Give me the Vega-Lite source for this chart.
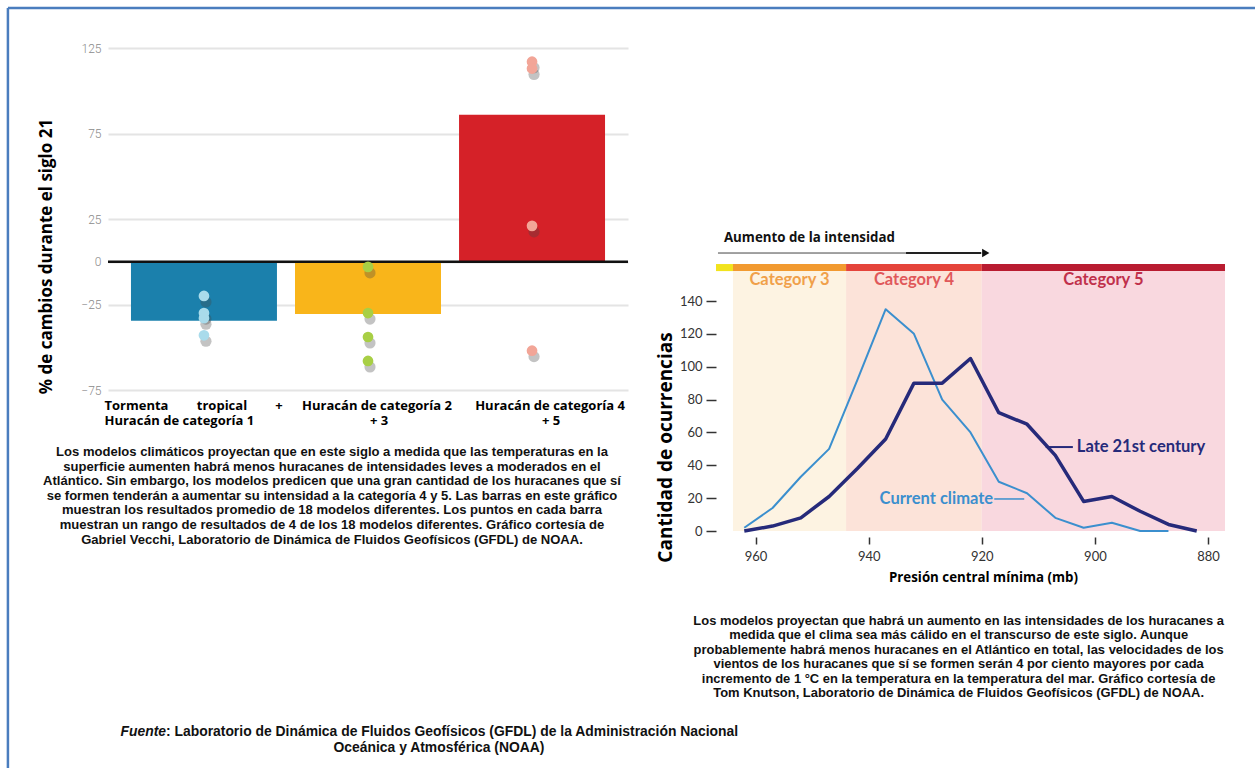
{
  "$schema": "https://vega.github.io/schema/vega-lite/v6.json",
  "padding": {"left": 6, "top": 6, "right": 0, "bottom": 0},
  "autosize": {"type": "pad"},
  "background": "white",
  "bounds": "flush",
  "spacing": 88,
  "config": {"view": {"stroke": null}, "font": "Open Sans", "text": {"font": "Open Sans"}},
  "datasets": {
    "bars": [
      {"cat": "Tormenta tropical + Huracán de categoría 1", "value": -34.5},
      {"cat": "Huracán de categoría 2 + 3", "value": -30.5},
      {"cat": "Huracán de categoría 4 + 5", "value": 86}
    ],
    "dots": [
      {"cat": "Tormenta tropical + Huracán de categoría 1", "value": -20},
      {"cat": "Tormenta tropical + Huracán de categoría 1", "value": -30},
      {"cat": "Tormenta tropical + Huracán de categoría 1", "value": -33},
      {"cat": "Tormenta tropical + Huracán de categoría 1", "value": -43},
      {"cat": "Huracán de categoría 2 + 3", "value": -3},
      {"cat": "Huracán de categoría 2 + 3", "value": -30},
      {"cat": "Huracán de categoría 2 + 3", "value": -44},
      {"cat": "Huracán de categoría 2 + 3", "value": -58},
      {"cat": "Huracán de categoría 4 + 5", "value": 117},
      {"cat": "Huracán de categoría 4 + 5", "value": 113},
      {"cat": "Huracán de categoría 4 + 5", "value": 21},
      {"cat": "Huracán de categoría 4 + 5", "value": -52}
    ],
    "cats": [
      {"cat": "Category 2", "from": 967, "to": 964},
      {"cat": "Category 3", "from": 964, "to": 944},
      {"cat": "Category 4", "from": 944, "to": 920},
      {"cat": "Category 5", "from": 920, "to": 877}
    ],
    "curves": [
      {"series": "Current climate", "mb": 962, "count": 2},
      {"series": "Current climate", "mb": 957, "count": 14},
      {"series": "Current climate", "mb": 952, "count": 33},
      {"series": "Current climate", "mb": 947, "count": 50},
      {"series": "Current climate", "mb": 942, "count": 92},
      {"series": "Current climate", "mb": 937, "count": 135},
      {"series": "Current climate", "mb": 932, "count": 120},
      {"series": "Current climate", "mb": 927, "count": 80},
      {"series": "Current climate", "mb": 922, "count": 60},
      {"series": "Current climate", "mb": 917, "count": 30},
      {"series": "Current climate", "mb": 912, "count": 23},
      {"series": "Current climate", "mb": 907, "count": 8},
      {"series": "Current climate", "mb": 902, "count": 2},
      {"series": "Current climate", "mb": 897, "count": 5},
      {"series": "Current climate", "mb": 892, "count": 0},
      {"series": "Current climate", "mb": 887, "count": 0},
      {"series": "Late 21st century", "mb": 962, "count": 0},
      {"series": "Late 21st century", "mb": 957, "count": 3},
      {"series": "Late 21st century", "mb": 952, "count": 8},
      {"series": "Late 21st century", "mb": 947, "count": 21},
      {"series": "Late 21st century", "mb": 942, "count": 38},
      {"series": "Late 21st century", "mb": 937, "count": 56},
      {"series": "Late 21st century", "mb": 932, "count": 90},
      {"series": "Late 21st century", "mb": 927, "count": 90},
      {"series": "Late 21st century", "mb": 922, "count": 105},
      {"series": "Late 21st century", "mb": 917, "count": 72},
      {"series": "Late 21st century", "mb": 912, "count": 65},
      {"series": "Late 21st century", "mb": 907, "count": 46},
      {"series": "Late 21st century", "mb": 902, "count": 18},
      {"series": "Late 21st century", "mb": 897, "count": 21},
      {"series": "Late 21st century", "mb": 892, "count": 12},
      {"series": "Late 21st century", "mb": 887, "count": 4},
      {"series": "Late 21st century", "mb": 882, "count": 0}
    ]
  },
  "hconcat": [
    {
      "width": 520,
      "height": 342,
      "resolve": {"scale": {"color": "independent"}},
      "layer": [
        {
          "data": {"name": "bars"},
          "mark": {"type": "bar"},
          "encoding": {
            "x": {"field": "cat", "type": "nominal", "scale": {"domain": ["Tormenta tropical + Huracán de categoría 1", "Huracán de categoría 2 + 3", "Huracán de categoría 4 + 5"], "paddingInner": 0.11, "paddingOuter": 0.14}, "axis": null},
            "y": {"field": "value", "type": "quantitative", "scale": {"domain": [-75, 125], "nice": false, "zero": false},
              "axis": {"values": [125, 75, 25, 0, -25, -75], "grid": true, "gridColor": "#e4e4e4", "gridWidth": 2, "domain": false, "ticks": false, "labelColor": "#8a8a8a", "labelFontSize": 12, "labelFont": "Roboto", "labelFontWeight": 300, "labelPadding": 7,
                "title": "% de cambios durante el siglo 21", "titleFont": "Open Sans", "titleFontSize": 17, "titleFontWeight": "bold", "titleColor": "#000", "titleX": -62, "titleY": 208, "titleAngle": -90, "titleAlign": "center", "titleBaseline": "middle"}},
            "color": {"field": "cat", "type": "nominal", "scale": {"domain": ["Tormenta tropical + Huracán de categoría 1", "Huracán de categoría 2 + 3", "Huracán de categoría 4 + 5"], "range": ["#1b80ac", "#f9b51a", "#d52128"]}, "legend": null}
          }
        },
        {
          "data": {"values": [{}]},
          "mark": {"type": "rule", "color": "#111", "strokeWidth": 2.5},
          "encoding": {"y": {"datum": 0}}
        },
        {
          "data": {"name": "dots"},
          "mark": {"type": "point", "filled": true, "color": "#444", "opacity": 0.32, "size": 125, "yOffset": 6, "xOffset": 2},
          "encoding": {
            "x": {"field": "cat", "type": "nominal", "axis": null},
            "y": {"field": "value", "type": "quantitative"}
          }
        },
        {
          "data": {"name": "dots"},
          "mark": {"type": "point", "filled": true, "opacity": 1, "size": 115},
          "encoding": {
            "x": {"field": "cat", "type": "nominal", "axis": null},
            "y": {"field": "value", "type": "quantitative"},
            "color": {"field": "cat", "type": "nominal", "scale": {"domain": ["Tormenta tropical + Huracán de categoría 1", "Huracán de categoría 2 + 3", "Huracán de categoría 4 + 5"], "range": ["#a9dbeb", "#a8cf45", "#f2a597"]}, "legend": null}
          }
        },
        {
          "data": {"values": [{}]},
          "mark": {"type": "text", "text": "Huracán de categoría 2", "align": "center", "dx": 9, "baseline": "top", "fontSize": 13, "fontWeight": "bold", "color": "#000"},
          "encoding": {"x": {"datum": "Huracán de categoría 2 + 3", "axis": null}, "y": {"datum": -80.8}}
        },
        {
          "data": {"values": [{}]},
          "mark": {"type": "text", "text": "+ 3", "align": "center", "dx": 11, "baseline": "top", "fontSize": 13, "fontWeight": "bold", "color": "#000"},
          "encoding": {"x": {"datum": "Huracán de categoría 2 + 3", "axis": null}, "y": {"datum": -89.9}}
        },
        {
          "data": {"values": [{}]},
          "mark": {"type": "text", "text": "Huracán de categoría 4", "align": "center", "dx": 18, "baseline": "top", "fontSize": 13, "fontWeight": "bold", "color": "#000"},
          "encoding": {"x": {"datum": "Huracán de categoría 4 + 5", "axis": null}, "y": {"datum": -80.8}}
        },
        {
          "data": {"values": [{}]},
          "mark": {"type": "text", "text": "+ 5", "align": "center", "dx": 19, "baseline": "top", "fontSize": 13, "fontWeight": "bold", "color": "#000"},
          "encoding": {"x": {"datum": "Huracán de categoría 4 + 5", "axis": null}, "y": {"datum": -89.9}}
        },
        {
          "data": {"values": [{}]},
          "mark": {"type": "text", "text": "Tormenta", "align": "left", "dx": -99.5, "baseline": "top", "fontSize": 13, "fontWeight": "bold", "color": "#000"},
          "encoding": {"x": {"datum": "Tormenta tropical + Huracán de categoría 1", "axis": null}, "y": {"datum": -80.8}}
        },
        {
          "data": {"values": [{}]},
          "mark": {"type": "text", "text": "Huracán de categoría 1", "align": "left", "dx": -99.5, "baseline": "top", "fontSize": 13, "fontWeight": "bold", "color": "#000"},
          "encoding": {"x": {"datum": "Tormenta tropical + Huracán de categoría 1", "axis": null}, "y": {"datum": -89.9}}
        },
        {
          "data": {"values": [{}]},
          "mark": {"type": "text", "text": "tropical", "align": "center", "dx": 18, "baseline": "top", "fontSize": 13, "fontWeight": "bold", "color": "#000"},
          "encoding": {"x": {"datum": "Tormenta tropical + Huracán de categoría 1", "axis": null}, "y": {"datum": -80.8}}
        },
        {
          "data": {"values": [{}]},
          "mark": {"type": "text", "text": "+", "align": "center", "dx": 75, "baseline": "top", "fontSize": 13, "fontWeight": "bold", "color": "#000"},
          "encoding": {"x": {"datum": "Tormenta tropical + Huracán de categoría 1", "axis": null}, "y": {"datum": -80.8}}
        },
        {
          "data": {"values": [{}]},
          "mark": {"type": "text", "text": [
            "Los modelos climáticos proyectan que en este siglo a medida que las temperaturas en la",
            "superficie aumenten habrá menos huracanes de intensidades leves a moderados en el",
            "Atlántico. Sin embargo, los modelos predicen que una gran cantidad de los huracanes que sí",
            "se formen tenderán a aumentar su intensidad a la categoría 4 y 5. Las barras en este gráfico",
            "muestran los resultados promedio de 18 modelos diferentes. Los puntos en cada barra",
            "muestran un rango de resultados de 4 de los 18 modelos diferentes. Gráfico cortesía de",
            "Gabriel Vecchi, Laboratorio de Dinámica de Fluidos Geofísicos (GFDL) de NOAA."
          ], "font": "Liberation Sans", "align": "center", "dx": -36, "baseline": "top", "lineHeight": 14.6, "fontSize": 13.05, "fontWeight": "bold", "color": "#111"},
          "encoding": {"x": {"datum": "Huracán de categoría 2 + 3", "axis": null}, "y": {"datum": -107.7}}
        },
        {
          "data": {"values": [{}]},
          "mark": {"type": "text", "text": "Fuente", "font": "Liberation Sans", "align": "left", "dx": -83.5, "baseline": "middle", "fontSize": 13.9, "fontWeight": "bold", "fontStyle": "italic", "color": "#111"},
          "encoding": {"x": {"datum": "Tormenta tropical + Huracán de categoría 1", "axis": null}, "y": {"datum": -275.0}}
        },
        {
          "data": {"values": [{}]},
          "mark": {"type": "text", "text": ": Laboratorio de Dinámica de Fluidos Geofísicos (GFDL) de la Administración Nacional", "font": "Liberation Sans", "align": "left", "dx": -38, "baseline": "middle", "fontSize": 13.9, "fontWeight": "bold", "color": "#111"},
          "encoding": {"x": {"datum": "Tormenta tropical + Huracán de categoría 1", "axis": null}, "y": {"datum": -275.0}}
        },
        {
          "data": {"values": [{}]},
          "mark": {"type": "text", "text": "Oceánica y Atmosférica (NOAA)", "font": "Liberation Sans", "align": "center", "dx": 71, "baseline": "middle", "fontSize": 13.9, "fontWeight": "bold", "color": "#111"},
          "encoding": {"x": {"datum": "Huracán de categoría 2 + 3", "axis": null}, "y": {"datum": -284.2}}
        }
      ]
    },
    {
      "width": 509,
      "height": 483,
      "resolve": {"scale": {"color": "independent"}},
      "layer": [
        {
          "data": {"name": "cats"},
          "transform": [{"filter": "datum.cat != 'Category 2'"}],
          "mark": {"type": "rect"},
          "encoding": {
            "x": {"field": "from", "type": "quantitative"},
            "x2": {"field": "to"},
            "y": {"datum": 0},
            "y2": {"datum": 158.2},
            "color": {"field": "cat", "type": "nominal", "scale": {"domain": ["Category 3", "Category 4", "Category 5"], "range": ["#fdf3e2", "#fce3d9", "#f9d8df"]}, "legend": null}
          }
        },
        {
          "data": {"name": "cats"},
          "mark": {"type": "rect"},
          "encoding": {
            "x": {"field": "from", "type": "quantitative"},
            "x2": {"field": "to"},
            "y": {"datum": 158.2},
            "y2": {"datum": 162.5},
            "color": {"field": "cat", "type": "nominal", "scale": {"domain": ["Category 2", "Category 3", "Category 4", "Category 5"], "range": ["#f2e31d", "#f29a30", "#e5443b", "#b91c31"]}, "legend": null}
          }
        },
        {
          "data": {"name": "cats"},
          "transform": [{"filter": "datum.cat != 'Category 2'"}, {"calculate": "(datum.from + datum.to) / 2", "as": "mid"}],
          "mark": {"type": "text", "font": "Lato", "fontSize": 16.5, "fontWeight": "bold", "baseline": "middle", "align": "center"},
          "encoding": {
            "x": {"field": "mid", "type": "quantitative"},
            "y": {"datum": 152.8},
            "text": {"field": "cat"},
            "color": {"field": "cat", "type": "nominal", "scale": {"domain": ["Category 3", "Category 4", "Category 5"], "range": ["#f0a04a", "#e0585a", "#c0304b"]}, "legend": null}
          }
        },
        {
          "data": {"values": [{}]},
          "mark": {"type": "rule", "color": "#444", "strokeWidth": 1},
          "encoding": {"x": {"datum": 966.65}, "x2": {"datum": 933.4}, "y": {"datum": 169.2}}
        },
        {
          "data": {"values": [{}]},
          "mark": {"type": "rule", "color": "#222", "strokeWidth": 2},
          "encoding": {"x": {"datum": 933.4}, "x2": {"datum": 920.1}, "y": {"datum": 169.2}}
        },
        {
          "data": {"values": [{}]},
          "mark": {"type": "point", "shape": "triangle-right", "filled": true, "color": "#111", "size": 70, "opacity": 1},
          "encoding": {"x": {"datum": 919.3}, "y": {"datum": 169.2}}
        },
        {
          "data": {"values": [{}]},
          "mark": {"type": "text", "text": "Aumento de la intensidad", "align": "left", "baseline": "middle", "fontSize": 13.3, "fontWeight": "bold", "color": "#111"},
          "encoding": {"x": {"datum": 965.6}, "y": {"datum": 178.3}}
        },
        {
          "data": {"name": "curves"},
          "transform": [{"filter": "datum.series == 'Current climate'"}],
          "mark": {"type": "line", "color": "#3b8fce", "strokeWidth": 2, "strokeJoin": "round"},
          "encoding": {
            "x": {"field": "mb", "type": "quantitative", "scale": {"domain": [967, 877], "nice": false, "zero": false},
              "axis": {"values": [960, 940, 920, 900, 880], "domain": false, "grid": false, "offset": 6, "tickSize": 7, "tickWidth": 1.5, "tickColor": "#333", "labelFont": "Lato", "labelFontSize": 13, "labelColor": "#333", "labelPadding": 6,
                "title": "Presión central mínima (mb)", "titleFont": "Open Sans", "titleFontSize": 13.3, "titleFontWeight": "bold", "titleColor": "#000", "titlePadding": 7, "titleX": 267, "titleAnchor": null, "titleAlign": "center"}},
            "y": {"field": "count", "type": "quantitative", "scale": {"domain": [0, 294], "nice": false, "zero": false},
              "axis": {"values": [0, 20, 40, 60, 80, 100, 120, 140], "domain": false, "grid": false, "tickSize": 10, "tickWidth": 1.5, "tickColor": "#333", "labelFont": "Lato", "labelFontSize": 13, "labelColor": "#333", "labelPadding": 4,
                "title": "Cantidad de ocurrencias", "titleFont": "Open Sans", "titleFontSize": 19, "titleFontWeight": "bold", "titleColor": "#000", "titleX": -51, "titleY": 399, "titleAngle": -90, "titleAlign": "center", "titleBaseline": "middle"}}
          }
        },
        {
          "data": {"name": "curves"},
          "transform": [{"filter": "datum.series == 'Late 21st century'"}],
          "mark": {"type": "line", "color": "#262a7a", "strokeWidth": 3.5, "strokeJoin": "round"},
          "encoding": {
            "x": {"field": "mb", "type": "quantitative"},
            "y": {"field": "count", "type": "quantitative"}
          }
        },
        {
          "data": {"values": [{}]},
          "mark": {"type": "text", "text": "Current climate", "font": "Lato", "align": "right", "baseline": "middle", "fontSize": 16.5, "fontWeight": "bold", "color": "#3b8fce"},
          "encoding": {"x": {"datum": 918.0}, "y": {"datum": 19.5}}
        },
        {
          "data": {"values": [{}]},
          "mark": {"type": "rule", "color": "#3b8fce", "strokeWidth": 1.5},
          "encoding": {"x": {"datum": 917.8}, "x2": {"datum": 912.5}, "y": {"datum": 19.5}}
        },
        {
          "data": {"values": [{}]},
          "mark": {"type": "text", "text": "Late 21st century", "font": "Lato", "align": "left", "baseline": "middle", "fontSize": 16.5, "fontWeight": "bold", "color": "#262a7a"},
          "encoding": {"x": {"datum": 903.2}, "y": {"datum": 51.1}}
        },
        {
          "data": {"values": [{}]},
          "mark": {"type": "rule", "color": "#262a7a", "strokeWidth": 2},
          "encoding": {"x": {"datum": 908.7}, "x2": {"datum": 903.9}, "y": {"datum": 51.1}}
        },
        {
          "data": {"values": [{}]},
          "mark": {"type": "text", "text": [
            "Los modelos proyectan que habrá un aumento en las intensidades de los huracanes a",
            "medida que el clima sea más cálido en el transcurso de este siglo. Aunque",
            "probablemente habrá menos huracanes en el Atlántico en total, las velocidades de los",
            "vientos de los huracanes que sí se formen serán 4 por ciento mayores por cada",
            "incremento de 1 °C en la temperatura en la temperatura del mar. Gráfico cortesía de",
            "Tom Knutson, Laboratorio de Dinámica de Fluidos Geofísicos (GFDL) de NOAA."
          ], "font": "Liberation Sans", "align": "center", "baseline": "top", "lineHeight": 14.5, "fontSize": 12.95, "fontWeight": "bold", "color": "#111"},
          "encoding": {"x": {"datum": 924.1}, "y": {"datum": -51.0}}
        },
        {
          "data": {"values": [{}]},
          "mark": {"type": "rule", "color": "#4a7dbe", "strokeWidth": 2.5},
          "encoding": {"x": {"datum": 1092.2}, "x2": {"datum": 871.7}, "y": {"datum": 318.3}}
        },
        {
          "data": {"values": [{}]},
          "mark": {"type": "rule", "color": "#4a7dbe", "strokeWidth": 2.5},
          "encoding": {"x": {"datum": 1092.2}, "y": {"datum": 318.3}, "y2": {"datum": -144.3}}
        }
      ]
    }
  ]
}
